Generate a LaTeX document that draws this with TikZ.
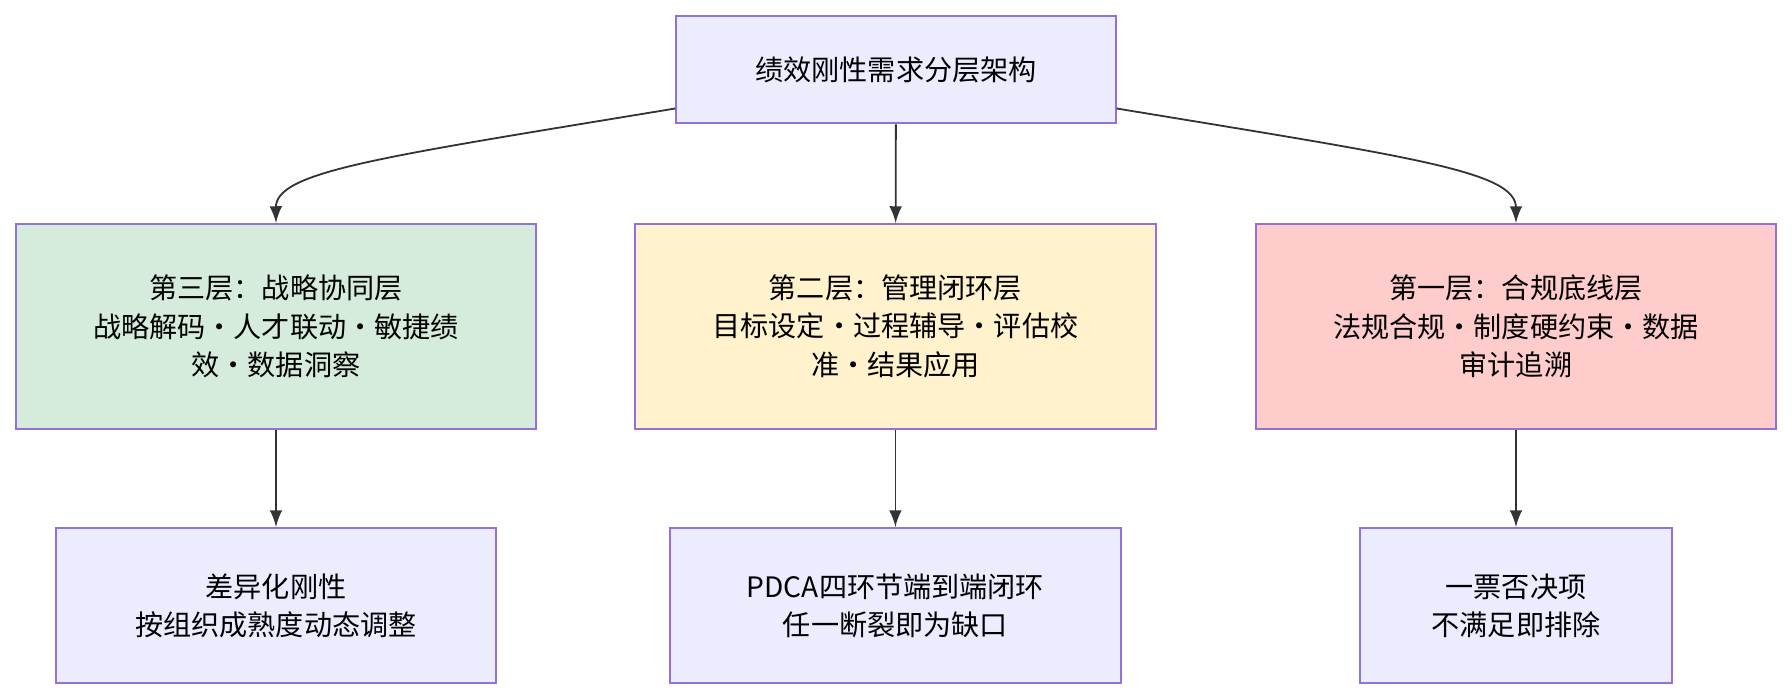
\documentclass[tikz,border=0pt]{standalone}
\usepackage{fontspec}
\setmainfont{Noto Sans CJK SC}
\usetikzlibrary{calc, shapes, arrows, positioning}
\definecolor{boxfill}{HTML}{ECECFF}
\definecolor{boxline}{HTML}{9370DB}
\definecolor{greenfill}{HTML}{D5ECDC}
\definecolor{yellowfill}{HTML}{FFF2CC}
\definecolor{pinkfill}{HTML}{FFCCCC}
\tikzstyle{layer} = [rectangle, draw=boxline, fill=boxfill, line width=0.5pt, text centered, align=center, font=\fontsize{7}{9.6}\selectfont, inner sep=0pt]
\tikzstyle{strat} = [layer, fill=greenfill]
\tikzstyle{mgmt} = [layer, fill=yellowfill]
\tikzstyle{comp} = [layer, fill=pinkfill]
\tikzstyle{line} = [draw=black!80, line width=0.45pt, -latex]

\begin{document}
\begin{tikzpicture}[x=0.01cm, y=-0.01cm]
\useasboundingbox (0,0) rectangle (1568,612);
\node [layer, minimum width=3.84cm, minimum height=0.94cm] (root) at (784,61) {绩效刚性需求分层架构};
\node [strat, minimum width=4.55cm, minimum height=1.79cm] (l3) at (241.5,285.5) {第三层：战略协同层\\战略解码·人才联动·敏捷绩\\效·数据洞察};
\node [mgmt, minimum width=4.55cm, minimum height=1.79cm] (l2) at (783.5,285.5) {第二层：管理闭环层\\目标设定·过程辅导·评估校\\准·结果应用};
\node [comp, minimum width=4.55cm, minimum height=1.79cm] (l1) at (1326.5,285.5) {第一层：合规底线层\\法规合规·制度硬约束·数据\\审计追溯};
\node [layer, minimum width=3.85cm, minimum height=1.36cm] (l3b) at (241.5,530) {差异化刚性\\按组织成熟度动态调整};
\node [layer, minimum width=3.95cm, minimum height=1.36cm] (l2b) at (783.5,530) {PDCA四环节端到端闭环\\任一断裂即为缺口};
\node [layer, minimum width=2.73cm, minimum height=1.36cm] (l1b) at (1326.5,530) {一票否决项\\不满足即排除};
\path[line] (root.south west) ++(0,-14) .. controls (330,138) and (241,150) .. (l3.north);
\path[line] (root.south east) ++(0,-14) .. controls (1238,138) and (1326.5,150) .. (l1.north);
\path[line] (root) -- (l2);
\path[line] (l3) -- (l3b);
\path[line] (l2) -- (l2b);
\path[line] (l1) -- (l1b);
\end{tikzpicture}
\end{document}
